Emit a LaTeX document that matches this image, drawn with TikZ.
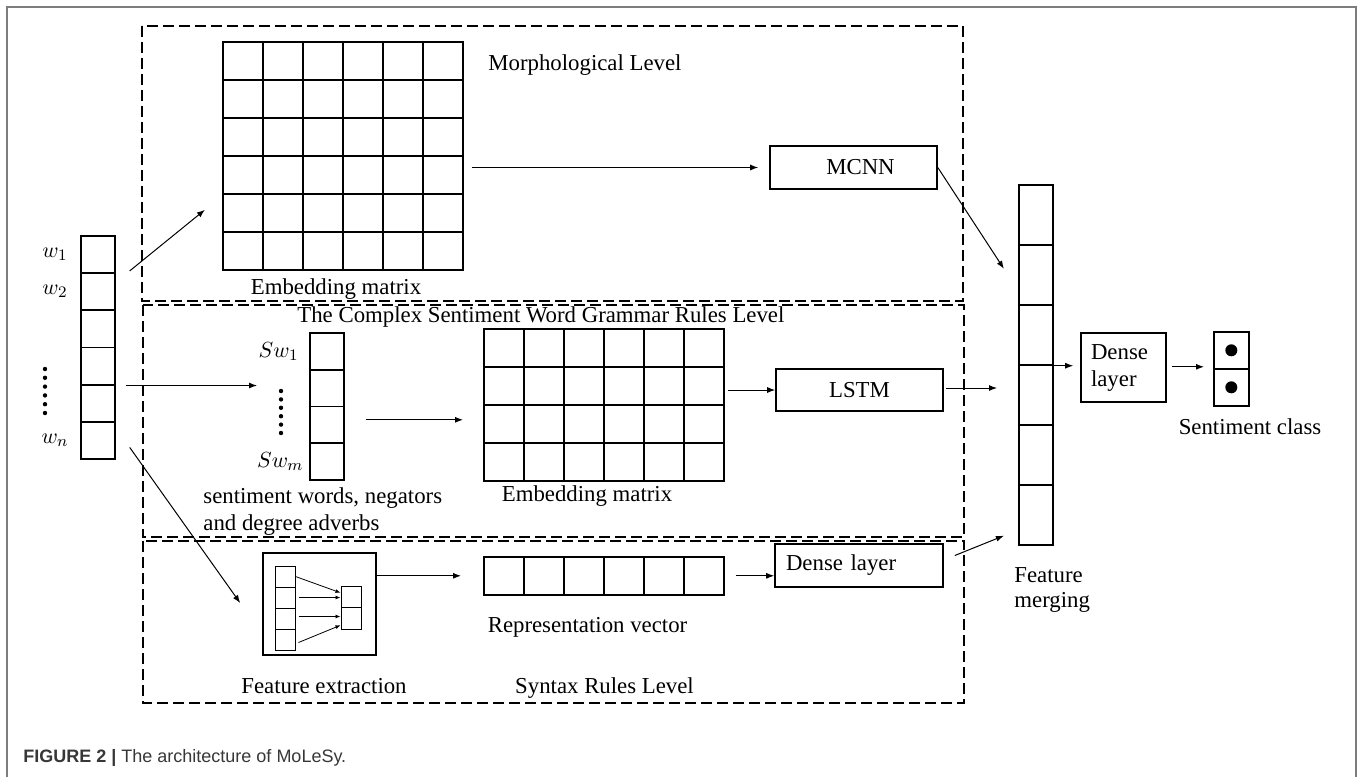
\documentclass[tikz,border=0pt]{standalone}
\usepackage{fontspec}
\setmainfont{Liberation Serif}
\newfontfamily\captionfont{Liberation Sans}
\usepackage{tikz}
\usetikzlibrary{matrix}
\usetikzlibrary{calc}
\usetikzlibrary{positioning}
\usetikzlibrary{arrows.meta}
\definecolor{framegray}{RGB}{125,125,125}
\definecolor{captiongray}{RGB}{55,55,55}
\tikzset{
tablegrid/.style={
  matrix of nodes,
  row sep=-0.9pt,
  column sep=-0.9pt,
  inner sep=0pt,
  line width=0.9pt,
  anchor=north west,
  nodes={rectangle,draw,inner sep=0pt},
  nodes in empty cells
},
thingrid/.style={line width=0.5pt,row sep=-0.5pt,column sep=-0.5pt},
cellsize/.style 2 args={nodes={minimum width=#1,minimum height=#2}},
levelbox/.style={draw,line width=0.8pt,dash pattern=on 5.5pt off 2.5pt},
blockbox/.style={draw,rectangle,line width=0.8pt,inner sep=0pt},
flow/.style={-{Latex[length=4pt,width=3pt]},line width=0.5pt},
smallflow/.style={-{Latex[length=2.5pt,width=2pt]},line width=0.4pt},
}

\begin{document}
\begin{tikzpicture}[x=0.5pt,y=-0.5pt,inner sep=0pt,font=\fontsize{11.4pt}{13.5pt}\selectfont]
\useasboundingbox (0,0) rectangle (1363,777);
% frame and the three levels
\draw[framegray,line width=1pt] (7,777) -- (7,7) -- (1356,7) -- (1356,777);
\draw[levelbox] (142,26) rectangle (963,301);
\draw[levelbox] (143,305) rectangle (964,537);
\draw[levelbox] (143,541) rectangle (964,703);

% input words
\matrix (wvec) [tablegrid,cellsize={17pt}{18.6pt}] at (79,234)
{
\\
\\
\\
\\
\\
\\
};
\node[left=6pt of wvec-1-1] (w1) {$w_1$};
\node[left=6pt of wvec-2-1] (w2) {$w_2$};
\node[left=5.5pt of wvec-6-1] (wn) {$w_n$};
\foreach \i in {0,...,5}
  \fill (45,369+8.8*\i) circle (1.1pt);

% morphological level
\matrix (emb1) [tablegrid,cellsize={20pt}{19pt}] at (221,40)
{
& & & & & \\
& & & & & \\
& & & & & \\
& & & & & \\
& & & & & \\
& & & & & \\
};
\node[anchor=base] (emb1txt) at (336,294) {Embedding matrix};
\node[anchor=base west] (morph) at (488,70) {Morphological Level};
\node[blockbox,minimum width=83.5pt,minimum height=21.5pt] (mcnn) at (853.5,167.5) {\hspace{7pt}MCNN};

% complex sentiment word level
\node[anchor=base west] (cswg) at (297,322) {The Complex Sentiment Word Grammar Rules Level};
\matrix (swvec) [tablegrid,cellsize={17pt}{18.4pt}] at (308,331)
{
\\
\\
\\
\\
};
\node[left=5pt of swvec-1-1] (sw1) {$Sw_1$};
\node[left=2.5pt of swvec-4-1] (swm) {$Sw_m$};
\foreach \i in {0,...,5}
  \fill (281,391+8.4*\i) circle (1.1pt);
\node[anchor=base west,align=left] (swtxt) at (203,530) {sentiment words, negators\\and degree adverbs};
\matrix (emb2) [tablegrid,cellsize={20pt}{19pt}] at (482,327)
{
& & & & & \\
& & & & & \\
& & & & & \\
& & & & & \\
};
\node[anchor=base] (emb2txt) at (587,501) {Embedding matrix};
\node[blockbox,minimum width=83.5pt,minimum height=21pt] (lstm) at (859.5,390) {LSTM};

% syntax rules level
\node[blockbox,minimum width=56.5pt,minimum height=51pt] (fex) at (319.5,604) {};
\matrix (fvin) [tablegrid,thingrid,cellsize={10pt}{10.5pt}] at (274,565)
{
\\
\\
\\
\\
};
\matrix (fvout) [tablegrid,thingrid,cellsize={10pt}{10.75pt}] at (340,585)
{
\\
\\
};
\node[anchor=base] (fextxt) at (324,693) {Feature extraction};
\matrix (repvec) [tablegrid,cellsize={20pt}{19pt}] at (482,555)
{
& & & & & \\
};
\node[anchor=base] (reptxt) at (587.5,632) {Representation vector};
\node[anchor=base] (syntax) at (604.5,693) {Syntax Rules Level};
\node[blockbox,text width=73pt,inner xsep=5.5pt,align=left,minimum height=21.5pt] (dense2) at (859,565.5) {Dense layer};

% merging and output
\matrix (merge) [tablegrid,cellsize={17pt}{30pt}] at (1017,183)
{
\\
\\
\\
\\
\\
\\
};
\node[anchor=base west,align=left,font=\fontsize{11.4pt}{12.5pt}\selectfont] (mergetxt) at (1014,607) {Feature\\merging};
\node[blockbox,text width=32.5pt,inner xsep=5pt,align=left,minimum height=34.5pt] (dense1) at (1123.5,367.5) {Dense\\layer};
\matrix (clsvec) [tablegrid,cellsize={17.5pt}{18.5pt}] at (1212,330)
{
\\
\\
};
\fill (clsvec-1-1) circle (3pt);
\fill (clsvec-2-1) circle (3pt);
\node[anchor=base] (clstxt) at (1250,434) {Sentiment class};

% caption
\node[anchor=base west,font=\captionfont\fontsize{9pt}{11pt}\selectfont,text=captiongray] (caption) at (23,762) {\textbf{FIGURE 2 |} The architecture of MoLeSy.};

% the arrows
\draw[flow] ($(wvec-1-1.south east)+(14,-3)$) -- ($(emb1-5-1.west)+(-17,-3)$);
\draw[flow] ($(wvec-4-1.south east)+(10,0)$) -- ($(swvec.west |- wvec-4-1.south)+(-51,0)$);
\draw[flow] ($(wvec-6-1.east)+(14,7)$) -- ($(fex.west)+(-22,-1)$);
\draw[flow] ($(emb1.east |- mcnn.west)+(7,0)$) -- ($(mcnn.west)+(-11,0)$);
\draw[flow] (mcnn.east) -- ($(merge-2-1.west)+(-14,-6)$);
\draw[flow] ($(swvec-3-1.east)+(21,-5)$) -- ($(emb2.west |- swvec-3-1.east)+(-19,-5)$);
\draw[flow] ($(emb2.east |- lstm.west)+(2,0)$) -- (lstm.west);
\draw[flow] ($(lstm.east)+(2,-2)$) -- ($(merge.west |- lstm.east)+(-20,-2)$);
\draw[flow] (fex.east |- repvec.west) -- ($(repvec.west)+(-21,0)$);
\draw[flow] ($(repvec.east)+(10,0)$) -- (dense2.west |- repvec.east);
\draw[flow] ($(dense2.east)+(11,-10)$) -- ($(merge-6-1.south west)+(-14,-10)$);
\draw[flow] (merge-3-1.south east) -- ($(dense1.west |- merge-3-1.south east)+(-7,0)$);
\draw[flow] ($(dense1.east |- clsvec.west)+(5,-2)$) -- ($(clsvec.west)+(-8,-2)$);
\draw[smallflow] (fvin-1-1.east) -- ($(fvout-1-1.west)+(0,-4)$);
\draw[smallflow] ($(fvin-2-1.east)+(3,0)$) -- (fvout-1-1.west |- fvin-2-1.east);
\draw[smallflow] ($(fvin-3-1.east)+(3,-2)$) -- ($(fvout-2-1.west |- fvin-3-1.east)+(0,-2)$);
\draw[smallflow] ($(fvin-4-1.east)+(3,3)$) -- ($(fvout-2-1.west)+(0,7)$);
\end{tikzpicture}
\end{document}
